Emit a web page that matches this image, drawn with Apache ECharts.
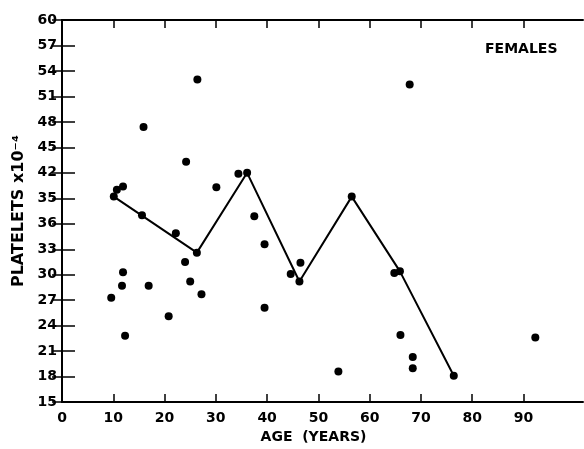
<!DOCTYPE html>
<html>
<head>
<meta charset="utf-8">
<script src="https://cdn.jsdelivr.net/npm/echarts@6/dist/echarts.min.js"></script>
<style>html,body{margin:0;padding:0;background:#fff}#c{width:584px;height:449px}</style>
</head>
<body>
<div id="c"></div>
<script>
// Individual observations (age in years, platelets x10^-4)
var scatterAges   = [10.7, 11.9, 15.6, 22.2, 24.2, 15.9, 26.4, 30.1, 34.4, 37.5, 39.5, 44.6, 46.5, 11.9, 11.7, 9.6, 16.9, 24.0, 25.0, 27.2, 20.8, 12.3, 39.5, 53.9, 64.8, 66.0, 68.4, 68.4, 67.8, 92.3];
var scatterValues = [40.0, 40.4, 37.0, 34.9, 43.3, 47.4, 53.0, 40.3, 41.9, 36.9, 33.6, 30.1, 31.4, 30.3, 28.7, 27.3, 28.7, 31.5, 29.2, 27.7, 25.1, 22.8, 26.1, 18.6, 30.2, 22.9, 20.3, 19.0, 52.4, 22.6];
// Connected (mean) points
var lineAges   = [10.1, 26.3, 36.1, 46.3, 56.5, 65.9, 76.4];
var lineValues = [39.2, 32.6, 42.0, 29.2, 39.2, 30.4, 18.1];
// Tick labels as printed
var yTickLabels = ['15','18','21','24','27','30','33','36','35','42','45','48','51','54','57','60'];
var xTickLabelValues = [0,10,20,30,40,50,60,70,80,90];
var xTickValues = [10,20,30,40,50,60,70,80,90];

var font = 'DejaVu Sans';
var chart = echarts.init(document.getElementById('c'), null, {renderer:'canvas'});
var axLine = {show:true, lineStyle:{color:'#000', width:2}};
chart.setOption({
  animation:false,
  grid:{left:62, right:1, top:20, bottom:42},
  xAxis:[{
    type:'value', min:0, max:101.6, interval:10, position:'bottom',
    axisLine:axLine,
    axisTick:{show:true, inside:true, length:8, lineStyle:{color:'#000', width:1.5}, customValues:xTickValues},
    axisLabel:{color:'#000', fontFamily:font, fontWeight:'bold', fontSize:14, margin:9, customValues:xTickLabelValues},
    splitLine:{show:false},
    name:'AGE  (YEARS)', nameLocation:'middle', nameGap:26,
    nameTextStyle:{color:'#000', fontFamily:font, fontWeight:'bold', fontSize:14, padding:[0,18,0,0]}
  },{
    type:'value', min:0, max:101.6, interval:10, position:'top',
    axisLine:axLine,
    axisTick:{show:true, inside:true, length:8, lineStyle:{color:'#000', width:1.5}, customValues:xTickValues},
    axisLabel:{show:false}, splitLine:{show:false}
  }],
  yAxis:[{
    type:'value', min:15, max:60, interval:3, position:'left',
    axisLine:axLine,
    axisTick:{show:true, inside:true, length:13, lineStyle:{color:'#000', width:1.5}},
    axisLabel:{color:'#000', fontFamily:font, fontWeight:'bold', fontSize:14, margin:5,
      formatter:function(v){ var i=Math.round((v-15)/3); return yTickLabels[i]; }},
    splitLine:{show:false},
    name:'PLATELETS x10⁻⁴', nameLocation:'middle', nameGap:34, nameRotate:90,
    nameTextStyle:{color:'#000', fontFamily:font, fontWeight:'bold', fontSize:16}
  },{
    type:'value', min:15, max:60, interval:3, position:'right',
    axisLine:axLine,
    axisTick:{show:true, inside:true, length:10, lineStyle:{color:'#000', width:1.5}},
    axisLabel:{show:false}, splitLine:{show:false}
  }],
  graphic:[{type:'text', left:485, top:42, style:{text:'FEMALES', fill:'#000', font:'bold 14px "DejaVu Sans"'}}],
  series:[{
    type:'line', xAxisIndex:0, yAxisIndex:0,
    data:lineAges.map(function(a,i){return [a, lineValues[i]];}),
    symbol:'circle', symbolSize:8, showSymbol:true,
    lineStyle:{color:'#000', width:2}, itemStyle:{color:'#000', opacity:1}, z:3
  },{
    type:'scatter', xAxisIndex:0, yAxisIndex:0,
    data:scatterAges.map(function(a,i){return [a, scatterValues[i]];}),
    symbol:'circle', symbolSize:8, itemStyle:{color:'#000', opacity:1}, z:4
  }]
});
</script>
</body>
</html>
